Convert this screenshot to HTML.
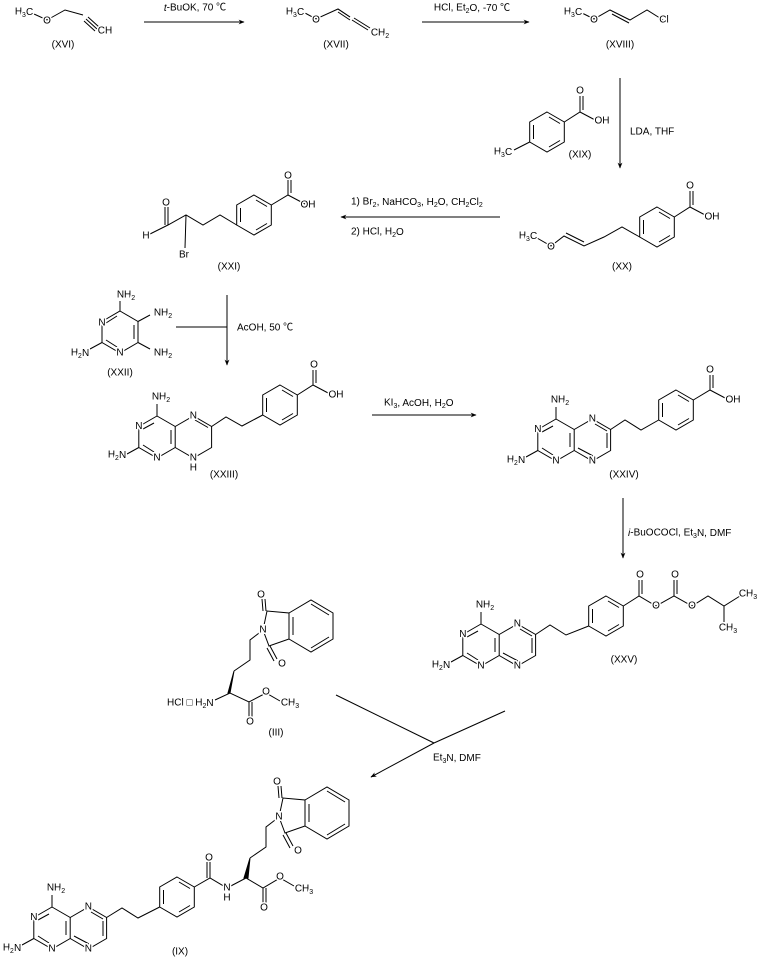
<!DOCTYPE html>
<html><head><meta charset="utf-8"><style>
html,body{margin:0;padding:0;background:#fff}
svg{display:block}
text{font-family:"Liberation Sans","Noto Sans CJK SC",sans-serif;font-size:10px;fill:#000;stroke:#fff;stroke-width:3px;paint-order:stroke;text-anchor:middle;dominant-baseline:central}
text.r{stroke:none;text-anchor:start}
text.l{stroke:none}
tspan.s{font-size:7px}
line,polyline,polygon.b{stroke:#000;stroke-width:1;fill:none}
</style></head><body>
<svg width="757" height="962" viewBox="0 0 757 962" xmlns="http://www.w3.org/2000/svg">
<defs>
<marker id="ah" viewBox="0 0 10 10" refX="9" refY="5" markerWidth="8" markerHeight="6" orient="auto"><path d="M0,1 L10,5 L0,9 L3,5z" fill="#000"/></marker>
<g id="bz">
<polygon class="b" points="0,-20 17.3,-10 17.3,10 0,20 -17.3,10 -17.3,-10"/>
<line x1="2" y1="-15" x2="13" y2="-8.5"/><line x1="13" y1="8.5" x2="2" y2="15"/><line x1="-13.5" y1="7" x2="-13.5" y2="-7"/>
</g>
<g id="pt">
<polyline points="0,-21 18.2,-10.5 18.2,10.5 0,21 -18.2,10.5 -18.2,-10.5 0,-21"/>
<polyline points="18.2,-10.5 36.4,-21 54.6,-10.5 54.6,10.5 36.4,21 18.2,10.5"/>
<line x1="-14" y1="-8" x2="-3" y2="-14"/><line x1="-14" y1="8" x2="-3" y2="15"/><line x1="14" y1="-7" x2="14" y2="7"/>
<line x1="0" y1="-21" x2="0" y2="-33"/><line x1="-18.2" y1="10.5" x2="-30" y2="17"/>
</g>
</defs>

<!-- XVI -->
<polyline points="34,14 47,20 65,10 83,15"/>
<line x1="86" y1="19" x2="97" y2="29"/><line x1="88" y1="17" x2="99" y2="27"/><line x1="84" y1="21" x2="95" y2="31"/>
<text x="24" y="12">H<tspan class="s" dy="3">3</tspan><tspan dy="-3">C</tspan></text>
<text x="47" y="21">O</text>
<text x="105" y="31">CH</text>
<text class="l" x="63" y="45">(XVI)</text>
<line x1="144" y1="22" x2="244" y2="22" marker-end="url(#ah)"/>
<text class="l" x="195" y="8"><tspan font-style="italic">t</tspan>-BuOK, 70 ℃</text>

<!-- XVII -->
<polyline points="305,13 316,19 338,9 350,17"/>
<line x1="338" y1="9" x2="350" y2="17"/><line x1="338" y1="12" x2="350" y2="20"/>
<line x1="352" y1="20" x2="368" y2="30"/><line x1="354" y1="18" x2="370" y2="28"/>
<text x="295" y="12">H<tspan class="s" dy="3">3</tspan><tspan dy="-3">C</tspan></text>
<text x="316" y="20">O</text>
<text x="380" y="33">CH<tspan class="s" dy="3">2</tspan></text>
<text class="l" x="336" y="45">(XVII)</text>
<line x1="422" y1="22" x2="529" y2="22" marker-end="url(#ah)"/>
<text class="l" x="472" y="8">HCl, Et<tspan class="s" dy="3">2</tspan><tspan dy="-3">O, -70 ℃</tspan></text>

<!-- XVIII -->
<polyline points="582,13 594,19 610,10 630,20 647,10 663,20"/>
<line x1="612" y1="14" x2="629" y2="23"/>
<text x="573" y="12">H<tspan class="s" dy="3">3</tspan><tspan dy="-3">C</tspan></text>
<text x="594" y="20">O</text>
<text x="664" y="20">Cl</text>
<text class="l" x="620" y="45">(XVIII)</text>
<line x1="620" y1="78" x2="620" y2="168" marker-end="url(#ah)"/>
<text class="r" x="630" y="132">LDA, THF</text>

<!-- XIX -->
<use href="#bz" x="547" y="132"/>
<polyline points="564.3,122 580,112 597,121"/>
<line x1="580" y1="112" x2="580" y2="96"/><line x1="583" y1="110" x2="583" y2="96"/>
<line x1="529.7" y1="142" x2="514" y2="150"/>
<text x="580" y="91">O</text><text x="602" y="121">OH</text>
<text x="503" y="152">H<tspan class="s" dy="3">3</tspan><tspan dy="-3">C</tspan></text>
<text class="l" x="580" y="155">(XIX)</text>

<!-- XX -->
<use href="#bz" x="657" y="227"/>
<polyline points="674.3,217 690,207 707,216"/>
<line x1="690" y1="207" x2="690" y2="191"/><line x1="693" y1="205" x2="693" y2="191"/>
<polyline points="639.7,237 622,227 604,237 584,246 564,236 551,246 537,238"/>
<line x1="584" y1="242" x2="566" y2="233"/>
<text x="690" y="186">O</text><text x="712" y="217">OH</text>
<text x="551" y="247">O</text>
<text x="528" y="236">H<tspan class="s" dy="3">3</tspan><tspan dy="-3">C</tspan></text>
<text class="l" x="622" y="267">(XX)</text>
<line x1="500" y1="217" x2="341" y2="217" marker-end="url(#ah)"/>
<text class="r" x="351" y="202">1) Br<tspan class="s" dy="3">2</tspan><tspan dy="-3">, NaHCO</tspan><tspan class="s" dy="3">3</tspan><tspan dy="-3">, H</tspan><tspan class="s" dy="3">2</tspan><tspan dy="-3">O, CH</tspan><tspan class="s" dy="3">2</tspan><tspan dy="-3">Cl</tspan><tspan class="s" dy="3">2</tspan></text>
<text class="r" x="351" y="232">2) HCl, H<tspan class="s" dy="3">2</tspan><tspan dy="-3">O</tspan></text>

<!-- XXI -->
<use href="#bz" x="254" y="215"/>
<polyline points="271.3,205 288,195 305,204"/>
<line x1="288" y1="195" x2="288" y2="180"/><line x1="291" y1="193" x2="291" y2="180"/>
<polyline points="236.7,225 220,215 203,225 186,215 168,225 150,234"/>
<line x1="186" y1="215" x2="185" y2="248"/>
<line x1="168" y1="225" x2="168" y2="207"/><line x1="165" y1="225" x2="165" y2="207"/>
<text x="288" y="176">O</text><text x="308" y="205">OH</text>
<text x="166" y="203">O</text><text x="146" y="236">H</text><text x="184" y="255">Br</text>
<text class="l" x="229" y="267">(XXI)</text>

<!-- XXII -->
<polygon class="b" points="120,311 138,321.5 138,342.5 120,353 102,342.5 102,321.5"/>
<line x1="134" y1="325" x2="134" y2="339"/><line x1="106" y1="340" x2="117" y2="347"/><line x1="106" y1="323" x2="117" y2="316"/>
<line x1="120" y1="311" x2="120" y2="301"/><line x1="138" y1="321.5" x2="150" y2="315"/><line x1="138" y1="342.5" x2="150" y2="349"/><line x1="102" y1="342.5" x2="90" y2="349"/>
<text x="102" y="323">N</text><text x="120" y="353">N</text>
<text x="126" y="295">NH<tspan class="s" dy="3">2</tspan></text>
<text x="163" y="313">NH<tspan class="s" dy="3">2</tspan></text>
<text x="163" y="353">NH<tspan class="s" dy="3">2</tspan></text>
<text x="80" y="353">H<tspan class="s" dy="3">2</tspan><tspan dy="-3">N</tspan></text>
<text class="l" x="120" y="373">(XXII)</text>
<line x1="176" y1="327" x2="227" y2="327"/>
<line x1="227" y1="295" x2="227" y2="365" marker-end="url(#ah)"/>
<text class="r" x="237" y="328">AcOH, 50 ℃</text>

<!-- XXIII -->
<g transform="translate(157,437)">
<polyline points="0,-21 18.2,-10.5 18.2,10.5 0,21 -18.2,10.5 -18.2,-10.5 0,-21"/>
<polyline points="18.2,-10.5 36.4,-21 54.6,-10.5 54.6,10.5 36.4,21 18.2,10.5"/>
<line x1="-14" y1="-8" x2="-3" y2="-14"/><line x1="-14" y1="8" x2="-3" y2="15"/><line x1="14" y1="-7" x2="14" y2="7"/>
<line x1="38" y1="-17" x2="51" y2="-9.5"/>
<line x1="0" y1="-21" x2="0" y2="-33"/><line x1="-18.2" y1="10.5" x2="-30" y2="17"/>
<text x="-18.2" y="-10.5">N</text><text x="0" y="21">N</text><text x="36.4" y="-21">N</text><text x="36.4" y="21">N</text>
<text x="36.4" y="31">H</text>
<text x="4" y="-40">NH<tspan class="s" dy="3">2</tspan></text>
<text x="-40" y="18">H<tspan class="s" dy="3">2</tspan><tspan dy="-3">N</tspan></text>
</g>
<polyline points="211.6,426.5 226,417 242,426 262.7,415"/>
<use href="#bz" x="280" y="405"/>
<polyline points="297.3,395 313,385 330,394"/>
<line x1="313" y1="385" x2="313" y2="370"/><line x1="316" y1="383" x2="316" y2="370"/>
<text x="314" y="365">O</text><text x="336" y="395">OH</text>
<text class="l" x="224" y="475">(XXIII)</text>
<line x1="372" y1="415" x2="476" y2="415" marker-end="url(#ah)"/>
<text class="r" x="384" y="403">KI<tspan class="s" dy="3">3</tspan><tspan dy="-3">, AcOH, H</tspan><tspan class="s" dy="3">2</tspan><tspan dy="-3">O</tspan></text>

<!-- XXIV -->
<g transform="translate(556,440)">
<use href="#pt"/>
<line x1="39" y1="-16" x2="51" y2="-9"/><line x1="51" y1="8" x2="51" y2="-7"/><line x1="39" y1="17" x2="22" y2="8"/>
<text x="-18.2" y="-10.5">N</text><text x="0" y="21">N</text><text x="36.4" y="-21">N</text><text x="36.4" y="21">N</text>
<text x="4" y="-40">NH<tspan class="s" dy="3">2</tspan></text>
<text x="-40" y="20">H<tspan class="s" dy="3">2</tspan><tspan dy="-3">N</tspan></text>
</g>
<polyline points="610.6,429.5 625,420 641,430 658.7,420"/>
<use href="#bz" x="676" y="410"/>
<polyline points="693.3,400 710,390 727,399"/>
<line x1="710" y1="390" x2="710" y2="375"/><line x1="713" y1="388" x2="713" y2="375"/>
<text x="710" y="370">O</text><text x="733" y="400">OH</text>
<text class="l" x="624" y="475">(XXIV)</text>
<line x1="623" y1="498" x2="623" y2="558" marker-end="url(#ah)"/>
<text class="r" x="628" y="533"><tspan font-style="italic">i</tspan>-BuOCOCl, Et<tspan class="s" dy="3">3</tspan><tspan dy="-3">N, DMF</tspan></text>

<!-- XXV -->
<g transform="translate(481,645)">
<use href="#pt"/>
<line x1="39" y1="-16" x2="51" y2="-9"/><line x1="51" y1="8" x2="51" y2="-7"/><line x1="39" y1="17" x2="22" y2="8"/>
<text x="-18.2" y="-10.5">N</text><text x="0" y="21">N</text><text x="36.4" y="-21">N</text><text x="36.4" y="21">N</text>
<text x="4" y="-40">NH<tspan class="s" dy="3">2</tspan></text>
<text x="-40" y="20">H<tspan class="s" dy="3">2</tspan><tspan dy="-3">N</tspan></text>
</g>
<polyline points="535.6,634.5 550,625 566,635 588.7,626"/>
<use href="#bz" x="606" y="616"/>
<polyline points="623.3,606 639,596 656,606 674,596 692,606 708,596 724,606 740,596"/>
<line x1="724" y1="606" x2="724" y2="622"/>
<line x1="639" y1="596" x2="639" y2="580"/><line x1="642" y1="594" x2="642" y2="580"/>
<line x1="674" y1="596" x2="674" y2="580"/><line x1="677" y1="594" x2="677" y2="580"/>
<text x="640" y="575">O</text><text x="656" y="606">O</text><text x="675" y="575">O</text><text x="692" y="606">O</text>
<text x="748" y="594">CH<tspan class="s" dy="3">3</tspan></text>
<text x="728" y="628">CH<tspan class="s" dy="3">3</tspan></text>
<text class="l" x="624" y="660">(XXV)</text>

<!-- III -->
<g transform="translate(-16,-187)">
<polyline points="279,817 283,798 305,800 305,826 285,833 279,817"/>
<line x1="279" y1="798" x2="278" y2="786"/><line x1="282" y1="798" x2="281" y2="786"/>
<line x1="286" y1="833" x2="293" y2="846"/><line x1="283" y1="835" x2="290" y2="848"/>
<polygon class="b" points="305,800 327,787 349,800 349,826 327,839 305,826"/>
<line x1="327" y1="791" x2="345" y2="802"/><line x1="345" y1="824" x2="327" y2="835"/><line x1="309" y1="804" x2="309" y2="822"/>
<polyline points="279,817 266,827 266,847 250,858"/>
<text x="277" y="782">O</text><text x="279" y="817">N</text><text x="298" y="851">O</text>
</g>
<polygon points="234,671 230,693 228,693" fill="#000" stroke="#000" stroke-width="1"/>
<polyline points="215,700 230,693 249,702 266,693 280,701"/>
<line x1="249" y1="702" x2="249" y2="718"/><line x1="252" y1="702" x2="252" y2="718"/>
<text x="250" y="722">O</text><text x="266" y="692">O</text>
<text x="290" y="703">CH<tspan class="s" dy="3">3</tspan></text>
<text class="r" x="167" y="703">HCl □ H<tspan class="s" dy="3">2</tspan><tspan dy="-3">N</tspan></text>
<text class="l" x="276" y="733">(III)</text>

<line x1="336" y1="695" x2="434" y2="743"/>
<line x1="505" y1="711" x2="434" y2="743"/>
<line x1="434" y1="743" x2="371" y2="777" marker-end="url(#ah)"/>
<text class="r" x="433" y="758">Et<tspan class="s" dy="3">3</tspan><tspan dy="-3">N, DMF</tspan></text>

<!-- IX -->
<polyline points="279,817 283,798 305,800 305,826 285,833 279,817"/>
<line x1="279" y1="798" x2="278" y2="786"/><line x1="282" y1="798" x2="281" y2="786"/>
<line x1="286" y1="833" x2="293" y2="846"/><line x1="283" y1="835" x2="290" y2="848"/>
<polygon class="b" points="305,800 327,787 349,800 349,826 327,839 305,826"/>
<line x1="327" y1="791" x2="345" y2="802"/><line x1="345" y1="824" x2="327" y2="835"/><line x1="309" y1="804" x2="309" y2="822"/>
<polyline points="279,817 266,827 266,847 250,858"/>
<text x="277" y="782">O</text><text x="279" y="817">N</text><text x="298" y="851">O</text>
<polygon points="250,858 248,878 244,878" fill="#000" stroke="#000" stroke-width="1"/>
<g transform="translate(52,928)">
<use href="#pt"/>
<line x1="39" y1="-16" x2="51" y2="-9"/><line x1="51" y1="8" x2="51" y2="-7"/><line x1="39" y1="17" x2="22" y2="8"/>
<text x="-18.2" y="-10.5">N</text><text x="0" y="21">N</text><text x="36.4" y="-21">N</text><text x="36.4" y="21">N</text>
<text x="4" y="-40">NH<tspan class="s" dy="3">2</tspan></text>
<text x="-40" y="20">H<tspan class="s" dy="3">2</tspan><tspan dy="-3">N</tspan></text>
</g>
<polyline points="106.6,917.5 122,908 138,918 159.7,907"/>
<use href="#bz" x="177" y="897"/>
<polyline points="194.3,887 210,878 227,888 246,878 263,888 280,878 294,886"/>
<line x1="210" y1="878" x2="210" y2="862"/><line x1="207" y1="878" x2="207" y2="862"/>
<line x1="263" y1="888" x2="263" y2="904"/><line x1="266" y1="888" x2="266" y2="904"/>
<text x="209" y="858">O</text><text x="227" y="888">N</text><text x="227" y="898">H</text>
<text x="264" y="908">O</text><text x="280" y="877">O</text>
<text x="304" y="889">CH<tspan class="s" dy="3">3</tspan></text>
<text class="l" x="180" y="952">(IX)</text>
</svg>
</body></html>
